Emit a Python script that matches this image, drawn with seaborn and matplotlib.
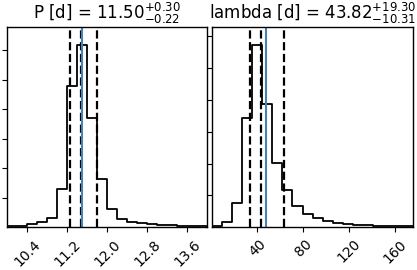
import numpy as np
import pandas as pd
import matplotlib
matplotlib.use("Agg")
import matplotlib.pyplot as plt
import seaborn as sns

# Marginal posteriors, 20 bins each (counts)
p_range = (10.0, 14.0)
p_counts = [27, 27, 56, 85, 152, 642, 2393, 3081, 1852, 816,
            304, 144, 90, 68, 51, 42, 39, 30, 27, 27]
p_quantiles = [11.26, 11.47, 11.79]
p_truth = 11.50
p_title = r"P [d] = $11.50_{-0.22}^{+0.30}$"
p_ticks = [10.4, 11.2, 12.0, 12.8, 13.6]
p_ticklabels = ["10.4", "11.2", "12.0", "12.8", "13.6"]

lam_range = (0.9, 175.4)
lam_counts = [16, 90, 385, 1710, 2850, 1930, 1010, 579, 331, 205,
              148, 95, 69, 54, 43, 38, 27, 22, 16, 16]
lam_quantiles = [33.6, 43.3, 63.2]
lam_truth = 47.6
lam_title = r"lambda [d] = $43.82_{-10.31}^{+19.30}$"
lam_ticks = [40, 80, 120, 160]
lam_ticklabels = ["40", "80", "120", "160"]

y_ticks = [500, 1000, 1500, 2000, 2500, 3000]

sns.set_style("ticks", {"axes.edgecolor": "k", "xtick.color": "k",
                        "ytick.color": "k", "text.color": "k",
                        "xtick.major.size": 3.5, "ytick.major.size": 3.5})
plt.rcParams['font.family'] = ['DejaVu Sans']


def plot_marginal(ax, rng, counts, quantiles, truth, title, xticks, xticklabels):
    edges = np.linspace(rng[0], rng[1], len(counts) + 1)
    df = pd.DataFrame({"x": 0.5 * (edges[:-1] + edges[1:]), "n": counts})
    sns.histplot(data=df, x="x", weights="n", bins=len(counts),
                 binrange=rng, element="step", fill=False, color="k",
                 linewidth=1.3, ax=ax)
    for q in quantiles:
        ax.axvline(q, ls="dashed", color="k", lw=1.6)
    ax.axvline(truth, color="#4682b4", lw=1.5)

    ax.set_xlim(rng)
    ax.set_ylim(0, 1.1 * max(counts))
    ax.set_xticks(xticks)
    ax.set_xticklabels(xticklabels, rotation=45, fontsize=10)
    ax.set_yticks(y_ticks)
    ax.set_yticklabels([])
    ax.set_xlabel("")
    ax.set_ylabel("")
    ax.set_title(title, fontsize=12)
    for s in ax.spines.values():
        s.set_visible(True)
        s.set_linewidth(1.0)


fig = plt.figure(figsize=(4.17, 2.70), dpi=100)
ax1 = fig.add_axes([0.0168, 0.158, 0.48, 0.741])
ax2 = fig.add_axes([0.509, 0.158, 0.481, 0.741])

plot_marginal(ax1, p_range, p_counts, p_quantiles, p_truth, p_title,
              p_ticks, p_ticklabels)
plot_marginal(ax2, lam_range, lam_counts, lam_quantiles, lam_truth, lam_title,
              lam_ticks, lam_ticklabels)

fig.savefig("out.png", dpi=100)
